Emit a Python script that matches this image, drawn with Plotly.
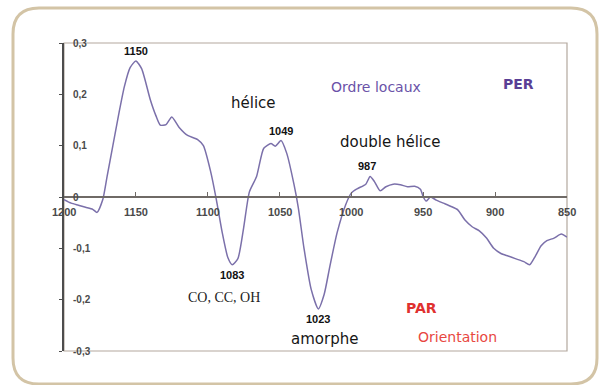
import plotly.graph_objects as go

# FTIR difference spectrum (PER - PAR), wavenumber in cm-1
wavenumber = [1200, 1195, 1190, 1185, 1180, 1177, 1173, 1170, 1166, 1162, 1158, 1154,
              1150, 1146, 1140, 1136, 1133, 1129, 1125, 1120, 1114, 1107, 1103, 1098,
              1094, 1090, 1086, 1083, 1079, 1075, 1071, 1066, 1061, 1056, 1053, 1049,
              1045, 1040, 1037, 1033, 1028, 1023, 1019, 1015, 1010, 1004, 1000, 996,
              990, 987, 984, 980, 976, 971, 966, 961, 956, 952, 950, 948, 945, 941,
              936, 931, 926, 921, 916, 911, 906, 901, 896, 891, 886, 880, 876, 872,
              868, 864, 859, 854, 850]
difference = [-0.005, -0.012, -0.016, -0.020, -0.024, -0.030, -0.005, 0.040, 0.100, 0.160,
              0.215, 0.252, 0.265, 0.250, 0.190, 0.158, 0.140, 0.141, 0.156, 0.136,
              0.120, 0.112, 0.100, 0.050, -0.005, -0.068, -0.118, -0.132, -0.120, -0.060,
              0.010, 0.040, 0.095, 0.104, 0.099, 0.110, 0.085, 0.025, -0.020, -0.100,
              -0.180, -0.218, -0.190, -0.135, -0.070, -0.015, 0.008, 0.016, 0.025, 0.040,
              0.030, 0.012, 0.020, 0.025, 0.024, 0.020, 0.021, 0.015, 0.000, -0.008,
              0.000, -0.006, -0.012, -0.018, -0.025, -0.045, -0.058, -0.066, -0.080,
              -0.100, -0.110, -0.115, -0.120, -0.126, -0.132, -0.115, -0.095, -0.085,
              -0.080, -0.072, -0.078]

# labelled band positions: (wavenumber, above/below)
peak_wn = [1150, 1083, 1049, 1023, 987]
peak_side = [1, -1, 1, -1, 1]

x_ticks = [1200, 1150, 1100, 1050, 1000, 950, 900, 850]
y_ticks = [0.3, 0.2, 0.1, 0, -0.1, -0.2, -0.3]
y_tick_text = ["0,3", "0,2", "0,1", "0", "-0,1", "-0,2", "-0,3"]

# descriptive labels: text, wavenumber, value, colour, font, size, bold
notes = [
    ("hélice", 1068, 0.184, "#161616", "DejaVu Sans", 15, False),
    ("double hélice", 973, 0.107, "#161616", "DejaVu Sans", 15, False),
    ("Ordre locaux", 983, 0.214, "#6a52a8", "DejaVu Sans", 14, False),
    ("PER", 884, 0.221, "#5a3f95", "DejaVu Sans", 14, True),
    ("CO, CC, OH", 1089, -0.196, "#222222", "Liberation Serif", 14, False),
    ("amorphe", 1018.7, -0.276, "#161616", "DejaVu Sans", 15, False),
    ("PAR", 951.5, -0.216, "#e0312f", "DejaVu Sans", 14, True),
    ("Orientation", 926, -0.272, "#e8473f", "DejaVu Sans", 14, False),
]

W, H = 608, 385
ML, MR, MT, MB = 64, 41, 43, 34
PW, PH = W - ML - MR, H - MT - MB
tick_font = dict(family="Liberation Sans", size=11, color="#4a4a4a", weight="bold")

fig = go.Figure()
fig.add_trace(go.Scatter(
    x=wavenumber, y=difference, mode="lines",
    line=dict(color="#7b70aa", width=1.5, shape="spline", smoothing=0.6),
    hoverinfo="x+y", showlegend=False,
))

value_at = dict(zip(wavenumber, difference))
for wn, side in zip(peak_wn, peak_side):
    fig.add_annotation(
        x=wn, y=value_at[wn], text=str(wn), showarrow=False,
        yshift=10 * side, xshift=-3 if wn == 987 else 0,
        font=dict(family="Liberation Sans", size=11, color="#111111", weight="bold"),
    )

for text, wn, val, col, fam, size, bold in notes:
    fig.add_annotation(
        x=wn, y=val, text=text, showarrow=False,
        font=dict(family=fam, size=size, color=col, weight="bold" if bold else "normal"),
    )

# axis labels sit on the zero line (x) and just right of the left axis (y)
for v in x_ticks:
    fig.add_annotation(x=v, y=0, text=str(v), showarrow=False, yshift=-15,
                       font=tick_font)
for v, t in zip(y_ticks, y_tick_text):
    fig.add_annotation(x=0, xref="paper", y=v, text=t, showarrow=False,
                       xanchor="left", xshift=7, font=dict(tick_font, size=10))


def to_paper(px, py):
    return (px - ML) / PW, (H - MB - py) / PH


def rounded_path(x0, y0, x1, y1, r):
    pts = [
        ("M", [(x0 + r, y0)]), ("L", [(x1 - r, y0)]), ("Q", [(x1, y0), (x1, y0 + r)]),
        ("L", [(x1, y1 - r)]), ("Q", [(x1, y1), (x1 - r, y1)]), ("L", [(x0 + r, y1)]),
        ("Q", [(x0, y1), (x0, y1 - r)]), ("L", [(x0, y0 + r)]), ("Q", [(x0, y0), (x0 + r, y0)]),
    ]
    parts = []
    for cmd, coords in pts:
        conv = [to_paper(a, b) for a, b in coords]
        parts.append(cmd + " " + " ".join(f"{a:.5f},{b:.5f}" for a, b in conv))
    return " ".join(parts) + " Z"


# outer rounded card border
fig.add_shape(type="path", xref="paper", yref="paper",
              path=rounded_path(13, 8, 597, 384, 26),
              line=dict(color="#d3c4a6", width=3), layer="below")
# plot frame
fig.add_shape(type="rect", xref="paper", yref="paper", x0=0, y0=0, x1=1, y1=1,
              line=dict(color="#b3a89e", width=1.2), layer="below")

fig.update_layout(
    width=W, height=H,
    margin=dict(l=ML, r=MR, t=MT, b=MB),
    paper_bgcolor="white", plot_bgcolor="white",
    xaxis=dict(
        range=[1200, 850], tickvals=x_ticks, showticklabels=False,
        anchor="free", position=0.5, showline=True, linecolor="#6f6a66", linewidth=2,
        ticks="inside", ticklen=4, tickcolor="#6f6a66", showgrid=False, zeroline=False,
    ),
    yaxis=dict(
        range=[-0.3, 0.3], tickvals=y_ticks, showticklabels=False,
        showline=True, linecolor="#4d4d4d", linewidth=2, showgrid=False, zeroline=False,
        ticks="outside", ticklen=3, tickcolor="#4d4d4d",
    ),
)

fig.write_html("out.html")
